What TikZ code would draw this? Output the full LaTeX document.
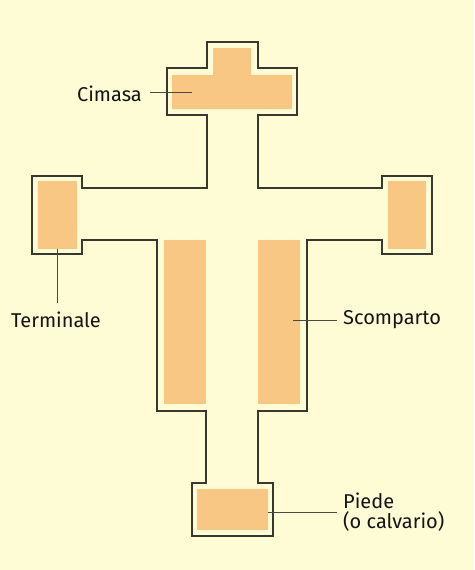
\documentclass[tikz,border=0pt]{standalone}
\usepackage{fontspec}
\setmainfont{Fira Sans}
\definecolor{bgc}{HTML}{FEFCD4}
\definecolor{panel}{HTML}{F9C784}
\definecolor{outl}{HTML}{383830}
\definecolor{lead}{HTML}{4A4A44}
\begin{document}
\begin{tikzpicture}[x=1pt,y=-1pt,
  outline/.style={draw=outl,line width=1.7pt,line join=miter},
  panelbox/.style={fill=panel,draw=none},
  leader/.style={draw=lead,line width=0.8pt},
  lbl/.style={font=\fontsize{20}{20.5}\selectfont,text=black!92,inner sep=0pt}]
\fill[bgc] (0,0) rectangle (474,570);
\useasboundingbox (0,0) rectangle (474,570);
% outline of the cross
\draw[outline] (207,42) -- (258,42) -- (258,68) -- (297,68) -- (297,115) -- (258,115)
  -- (258,188) -- (382,188) -- (382,176) -- (432,176) -- (432,254) -- (382,254)
  -- (382,240) -- (307,240) -- (307,411) -- (258,411) -- (258,483) -- (273,483)
  -- (273,536) -- (192,536) -- (192,483) -- (206,483) -- (206,411) -- (157,411)
  -- (157,240) -- (82,240) -- (82,254) -- (32,254) -- (32,176) -- (82,176)
  -- (82,188) -- (207,188) -- (207,115) -- (167,115) -- (167,68) -- (207,68) -- cycle;
% panels
\fill[panelbox] (213,48) -- (251,48) -- (251,75) -- (292,75) -- (292,109) -- (172,109) -- (172,75) -- (213,75) -- cycle;
\fill[panelbox] (38,181) rectangle (77,249);
\fill[panelbox] (388,181) rectangle (426,249);
\fill[panelbox] (164,240) rectangle (206,404);
\fill[panelbox] (258,240) rectangle (300,404);
\fill[panelbox] (197,489) rectangle (268,530);
% leader anchor points
\coordinate (cimA) at (192,92);
\coordinate (cimB) at (150,92);
\coordinate (terA) at (57,249);
\coordinate (terB) at (57,303);
\coordinate (scoA) at (293,320);
\coordinate (scoB) at (337,320);
\coordinate (pieA) at (268,512);
\coordinate (pieB) at (337,512);
% labels
\node[lbl,anchor=east] (lcim) at (142,94) {Cimasa};
\node[lbl] (lter) at (56,320) {Terminale};
\node[lbl,anchor=west] (lsco) at (343,320) {Scomparto};
\node[lbl,anchor=west,align=left] (lpie) at (343,512) {Piede\\(o calvario)};
% leaders
\draw[leader] (cimA) -- (cimB);
\draw[leader] (terA) -- (terB);
\draw[leader] (scoA) -- (scoB);
\draw[leader] (pieA) -- (pieB);
\end{tikzpicture}
\end{document}
